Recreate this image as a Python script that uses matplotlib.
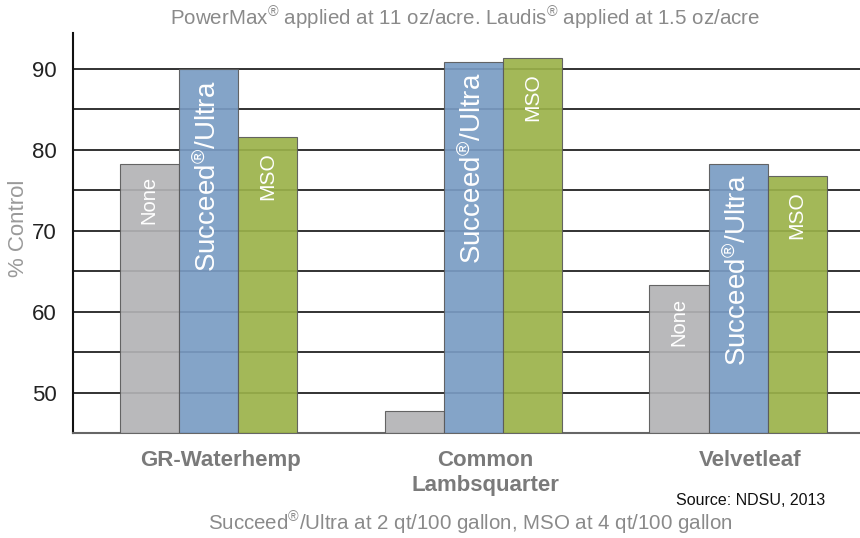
import numpy as np
import matplotlib
matplotlib.use('Agg')
import matplotlib.pyplot as plt
import matplotlib.transforms as mtrans

plt.rcParams['font.family'] = ['Liberation Sans', 'DejaVu Sans']
plt.rcParams['mathtext.fontset'] = 'custom'
plt.rcParams['mathtext.rm'] = 'Liberation Sans'
plt.rcParams['mathtext.it'] = 'Liberation Sans'

# data
weeds = ['GR-Waterhemp', 'Common\nLambsquarter', 'Velvetleaf']
treatments = ['None', r'Succeed$^{\circledR}$/Ultra', 'MSO']
none_vals = [78.3, 47.8, 63.3]
succeed_vals = [90.0, 90.9, 78.3]
mso_vals = [81.6, 91.4, 76.8]
yticks = [50, 60, 70, 80, 90]

colors = ['#b3b3b5', '#7a9cc4', '#9bb24a']
label_sizes = [14.5, 20, 15]
label_offsets = [-9, -8, -11]

fig = plt.figure(figsize=(8.6, 5.38), dpi=100)
ax = fig.add_axes([0.085, 0.195, 0.915, 0.744])

x = np.arange(len(weeds))
w = 0.223
series = [none_vals, succeed_vals, mso_vals]
for i, vals in enumerate(series):
    xs = x + (i - 1) * w
    ax.bar(xs, vals, width=w, bottom=0, color=colors[i], edgecolor='#5a5a5a',
           linewidth=0.8, alpha=0.92, zorder=3)
    for xi, v in zip(xs, vals):
        if v < 55:
            continue
        ax.annotate(treatments[i], xy=(xi, v), xytext=(0, label_offsets[i]),
                    textcoords='offset points', rotation=90, ha='center', va='top',
                    color='white', fontsize=label_sizes[i], zorder=4)

ax.set_ylim(45.05, 94.45)
ax.set_xlim(-0.51, 2.46)
ax.set_yticks(yticks)
ax.set_yticks(np.arange(50, 95, 5), minor=True)
ax.grid(axis='y', which='both', color='#222222', linewidth=1.3, zorder=0)
ax.tick_params(axis='y', which='both', length=0, labelsize=16, pad=12, labelcolor='#222222')
ax.tick_params(axis='x', length=0, pad=12)
ax.set_xticks(x)
ax.set_xticklabels(weeds, fontsize=16, fontweight='bold', color='#7a7a7a', linespacing=1.25)
# category names sit a little right of the group centres
shift = mtrans.ScaledTranslation(0.12, 0, fig.dpi_scale_trans)
for lbl in ax.get_xticklabels():
    lbl.set_transform(lbl.get_transform() + shift)

for s in ['top', 'right']:
    ax.spines[s].set_visible(False)
ax.spines['left'].set_color('#111111')
ax.spines['left'].set_linewidth(1.5)
ax.spines['bottom'].set_color('#666666')
ax.spines['bottom'].set_linewidth(1.5)

fig.text(0.021, 0.575, '% Control', rotation=90, ha='center', va='center',
         fontsize=16, color='#9a9a9a')

fig.text(0.541, 0.965, r'PowerMax$^{\circledR}$ applied at 11 oz/acre. Laudis$^{\circledR}$ applied at 1.5 oz/acre',
         ha='center', va='center', fontsize=14.8, color='#8a8a8a')
fig.text(0.547, 0.027, r'Succeed$^{\circledR}$/Ultra at 2 qt/100 gallon, MSO at 4 qt/100 gallon',
         ha='center', va='center', fontsize=14.8, color='#8a8a8a')
fig.text(0.96, 0.07, 'Source: NDSU, 2013', ha='right', va='center', fontsize=11.5, color='#111111')

fig.savefig('out.png', dpi=100)
